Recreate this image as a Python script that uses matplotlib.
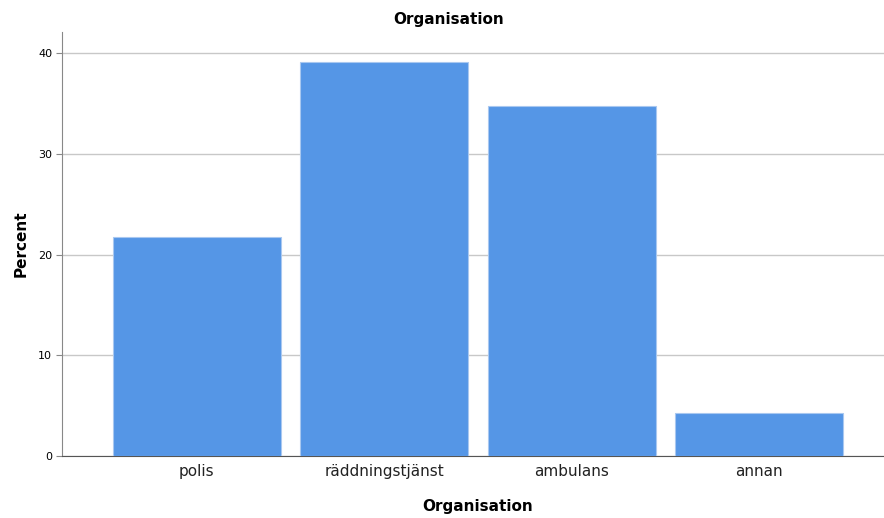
import matplotlib.pyplot as plt

# Organisation distribution (percent)
categories = ['polis', 'räddningstjänst', 'ambulans', 'annan']
percent = [21.7, 39.1, 34.8, 4.3]
yticks = [0, 10, 20, 30, 40]

fig = plt.figure(figsize=(8.84, 5.18), dpi=100)
ax = fig.add_axes([0.0701, 0.1197, 0.9299, 0.8185])

x = range(len(categories))
ax.bar(x, percent, width=0.896, color='#5596e6', edgecolor='#a9c8f0',
       linewidth=0.8, zorder=3)

ax.set_xlim(-0.72, 3.667)
ax.set_ylim(0, 42.1)
ax.set_yticks(yticks)
ax.set_xticks(list(x))
ax.set_xticklabels(categories, fontsize=11, color='#222222')
ax.tick_params(axis='x', length=0, pad=6)
ax.tick_params(axis='y', labelsize=8, length=4, width=0.8, color='#888888', pad=3)

ax.yaxis.grid(True, color='#c8c8c8', linewidth=1, zorder=0)
ax.set_axisbelow(True)

for s in ['top', 'right']:
    ax.spines[s].set_visible(False)
ax.spines['left'].set_color('#888888')
ax.spines['bottom'].set_color('#555555')

ax.set_title('Organisation', fontsize=11, fontweight='bold', pad=6, x=0.47)
ax.set_ylabel('Percent', fontsize=11, fontweight='bold', labelpad=7)
ax.set_xlabel('Organisation', fontsize=11, fontweight='bold', labelpad=14)
ax.xaxis.label.set_x(0.506)

fig.savefig('out.png', dpi=100)
